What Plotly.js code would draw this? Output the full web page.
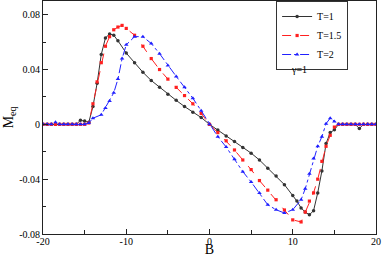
<!DOCTYPE html>
<html>
<head>
<meta charset="utf-8">
<script src="https://cdn.plot.ly/plotly-3.0.1.min.js"></script>
<style>html,body{margin:0;padding:0;background:#fff;}#chart{width:382px;height:257px;}</style>
</head>
<body>
<div id="chart"></div>
<script>
// T=1 series
var b1 = [-20,-19.5,-19,-18.5,-18,-17.5,-17,-16.5,-16,-15.5,-15,-14.5,-14,-13.5,-13,-12.5,-12,-11.5,-11,-10,-9,-8,-7,-6,-5,-4,-3,-2,-1,0,1,2,3,4,5,6,7,8,9,10,10.5,11,11.5,12,12.5,13,13.5,14,14.5,15,15.5,16,16.5,17,17.5,18,18.5,19,19.5,20];
var m1 = [0,0,0,0,0,0,0,0,0,0.003,0.0025,0.0015,0.013,0.030,0.051,0.063,0.066,0.065,0.061,0.052,0.045,0.038,0.032,0.027,0.022,0.0175,0.013,0.0088,0.005,0,-0.0042,-0.0085,-0.0126,-0.0168,-0.021,-0.026,-0.032,-0.0376,-0.044,-0.052,-0.056,-0.061,-0.064,-0.066,-0.063,-0.050,-0.034,-0.014,-0.006,-0.004,0,0,0,0,0,-0.003,0,0,0,0];
// T=1.5 series
var b2 = [-20,-19.5,-19,-18.5,-18,-17.5,-17,-16.5,-16,-15.5,-15,-14.5,-14,-13.5,-13,-12.5,-12,-11.5,-11,-10.5,-10,-9,-8,-7,-6,-5,-4,-3,-2,-1,0,1,2,3,4,5,6,7,8,9,10,11,11.5,12,12.5,13,13.5,14,14.5,15,15.5,16,16.5,17,17.5,18,18.5,19,19.5,20];
var m2 = [0,0,0,0,0,0,0,0,0,0,0,0.001,0.015,0.031,0.045,0.057,0.064,0.069,0.071,0.0722,0.070,0.065,0.057,0.048,0.040,0.033,0.027,0.021,0.015,0.008,0,-0.006,-0.012,-0.0187,-0.026,-0.033,-0.041,-0.048,-0.055,-0.0625,-0.0697,-0.0712,-0.064,-0.056,-0.050,-0.040,-0.027,-0.016,-0.008,-0.002,0,0,0,0,0,0,0,0,0,0];
// T=2 series
var b3 = [-20,-19.5,-19,-18.5,-18,-17.5,-17,-16.5,-16,-15.5,-15,-14.5,-14,-13,-12.5,-12,-11.5,-11,-10.5,-10,-9,-8,-7,-6,-5,-4,-3,-2,-1,0,1,2,3,4,5,6,7,8,9,10,11,11.5,12,12.5,13,13.5,14,14.5,15,15.5,16,16.5,17,17.5,18,18.5,19,19.5,20];
var m3 = [0,0,0,0.0015,0,0,0,0,0,0,0,0.001,0.0045,0.007,0.012,0.017,0.023,0.033,0.048,0.058,0.064,0.064,0.059,0.0516,0.043,0.035,0.027,0.019,0.010,0,-0.009,-0.0165,-0.0255,-0.0345,-0.042,-0.050,-0.0587,-0.0623,-0.0647,-0.0623,-0.055,-0.047,-0.036,-0.025,-0.016,-0.009,0.0005,0.0045,0.002,0,0,0,0,0,0,0,0,0,0];

var seriesNames = ['T=1','T=1.5','T=2'];
var xTickVals = [-20,-10,0,10,20];
var xTickText = ['-20','-10','0','10','20'];
var yTickVals = [-0.08,-0.04,0,0.04,0.08];
var yTickText = ['-0.08','-0.04','0','0.04','0.08'];
var xTitle = 'B';
var yTitle = 'M<sub>eq</sub>';
var note = 'γ=1';

var serif = 'Liberation Serif, Times New Roman, serif';

var traces = [
  {x:b1, y:m1, name:seriesNames[0], mode:'lines+markers', type:'scatter',
   line:{color:'#333333', width:1, dash:'solid'},
   marker:{symbol:'circle', size:3.5, color:'#333333'}},
  {x:b2, y:m2, name:seriesNames[1], mode:'lines+markers', type:'scatter',
   line:{color:'#ff2020', width:1, dash:'dash'},
   marker:{symbol:'square', size:3.2, color:'#ff2020'}},
  {x:b3, y:m3, name:seriesNames[2], mode:'lines+markers', type:'scatter',
   line:{color:'#2020ff', width:1, dash:'dashdot'},
   marker:{symbol:'triangle-up', size:4, color:'#2020ff'}}
];

var layout = {
  width:382, height:257,
  margin:{l:43, r:6, t:1, b:23, pad:0},
  paper_bgcolor:'#fff', plot_bgcolor:'#fff',
  font:{family:serif, size:10, color:'#000'},
  showlegend:true,
  legend:{x:0.70, y:1.0, xanchor:'left', yanchor:'top',
          bgcolor:'#fff', bordercolor:'#333', borderwidth:1,
          itemwidth:30, tracegroupgap:0,
          font:{family:serif, size:10, color:'#000'}},
  xaxis:{range:[-20,20], showgrid:false, zeroline:false,
         showline:true, linecolor:'#222', linewidth:1, mirror:true,
         ticks:'inside', ticklen:5, tickcolor:'#222', tickwidth:1,
         tickmode:'array', tickvals:xTickVals, ticktext:xTickText,
         minor:{ticks:'inside', ticklen:4, dtick:5, tickcolor:'#222', showgrid:false},
         tickfont:{family:serif, size:10}, ticklabelstandoff:-2,
         title:{text:xTitle, font:{family:serif, size:14}},
         automargin:false},
  yaxis:{range:[-0.08,0.09], showgrid:false, zeroline:false,
         showline:true, linecolor:'#222', linewidth:1, mirror:true,
         ticks:'inside', ticklen:5, tickcolor:'#222', tickwidth:1,
         tickmode:'array', tickvals:yTickVals, ticktext:yTickText,
         minor:{ticks:'inside', ticklen:3, dtick:0.02, tick0:0, tickcolor:'#222', showgrid:false},
         tickfont:{family:serif, size:10},
         title:{text:yTitle, font:{family:serif, size:14}, standoff:2},
         automargin:false},
  annotations:[
    {x:10.7, y:0.040, xref:'x', yref:'y', text:note, showarrow:false,
     font:{family:serif, size:10, color:'#000'}}
  ]
};

Plotly.newPlot('chart', traces, layout, {displayModeBar:false, staticPlot:true});
</script>
</body>
</html>
